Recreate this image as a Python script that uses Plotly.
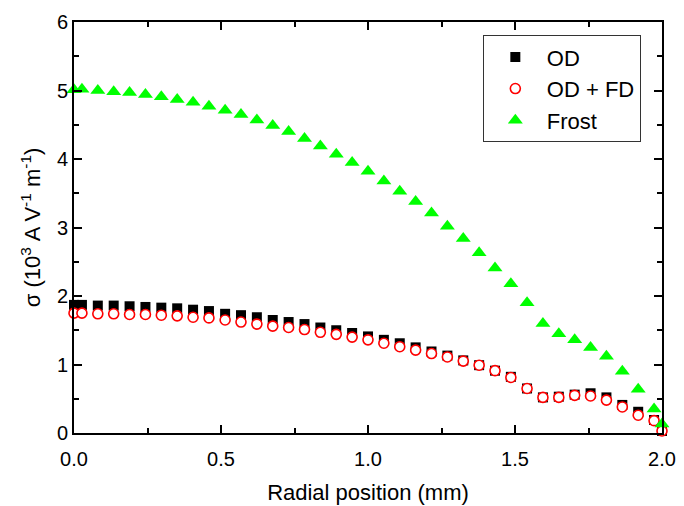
import plotly.graph_objects as go

radial_mm = [0.0, 0.027, 0.081, 0.135, 0.189, 0.243, 0.297, 0.351, 0.405, 0.459,
             0.514, 0.568, 0.622, 0.676, 0.730, 0.784, 0.838, 0.892, 0.946, 1.0,
             1.054, 1.108, 1.162, 1.216, 1.270, 1.324, 1.378, 1.432, 1.486, 1.541,
             1.595, 1.649, 1.703, 1.757, 1.811, 1.865, 1.919, 1.973, 2.0]

sigma_od = [1.87, 1.87, 1.86, 1.86, 1.85, 1.84, 1.83, 1.82, 1.80, 1.78,
            1.74, 1.72, 1.69, 1.65, 1.62, 1.59, 1.54, 1.50, 1.46, 1.41,
            1.36, 1.31, 1.25, 1.19, 1.13, 1.06, 0.99, 0.91, 0.82, 0.65,
            0.52, 0.53, 0.56, 0.58, 0.52, 0.41, 0.31, 0.19, 0.03]

sigma_od_fd = [1.75, 1.75, 1.74, 1.74, 1.73, 1.73, 1.72, 1.71, 1.69, 1.68,
               1.65, 1.62, 1.59, 1.56, 1.54, 1.51, 1.47, 1.44, 1.40, 1.36,
               1.31, 1.26, 1.21, 1.16, 1.11, 1.05, 0.99, 0.91, 0.81, 0.65,
               0.52, 0.52, 0.55, 0.54, 0.48, 0.38, 0.26, 0.18, 0.03]

sigma_frost = [5.01, 5.02, 5.00, 4.98, 4.97, 4.94, 4.91, 4.87, 4.83, 4.77,
               4.71, 4.65, 4.57, 4.49, 4.40, 4.30, 4.19, 4.07, 3.95, 3.82,
               3.68, 3.53, 3.38, 3.21, 3.02, 2.84, 2.63, 2.41, 2.18, 1.90,
               1.60, 1.45, 1.36, 1.25, 1.12, 0.90, 0.64, 0.35, 0.13]

series_names = ["OD", "OD + FD", "Frost"]
x_ticks = [0.0, 0.5, 1.0, 1.5, 2.0]
x_tick_labels = ["0.0", "0.5", "1.0", "1.5", "2.0"]
y_ticks = [0, 1, 2, 3, 4, 5, 6]

FONT = "Liberation Sans, Arial, sans-serif"

fig = go.Figure()
fig.add_trace(go.Scatter(
    x=radial_mm, y=sigma_od, mode="markers", name=series_names[0],
    marker=dict(symbol="square", size=10, color="black", line=dict(width=0)),
    cliponaxis=False))
fig.add_trace(go.Scatter(
    x=radial_mm, y=sigma_od_fd, mode="markers", name=series_names[1],
    marker=dict(symbol="circle", size=10, color="white",
                line=dict(color="#ff0000", width=1.6)),
    cliponaxis=False))
fig.add_trace(go.Scatter(
    x=radial_mm, y=sigma_frost, mode="markers", name=series_names[2],
    marker=dict(symbol="triangle-up", size=13, color="#00ff00", line=dict(width=0)),
    cliponaxis=False))

axis_common = dict(
    showline=True, linecolor="black", linewidth=2, mirror="ticks",
    ticks="inside", ticklen=8, tickwidth=1.5, tickcolor="black",
    showgrid=False, zeroline=False, automargin=False,
    tickfont=dict(family=FONT, size=20, color="black"),
)

fig.update_xaxes(
    range=[0, 2.0], tickvals=x_ticks, ticktext=x_tick_labels,
    ticklabelstandoff=7,
    minor=dict(dtick=0.25, ticks="inside", ticklen=5, tickwidth=1.5, tickcolor="black"),
    title=dict(text="Radial position (mm)", font=dict(family=FONT, size=22, color="black"), standoff=16),
    **axis_common)
fig.update_yaxes(
    range=[0, 6], tickvals=y_ticks,
    minor=dict(dtick=0.5, ticks="inside", ticklen=5, tickwidth=1.5, tickcolor="black"),
    title=dict(text="σ (10<sup>3</sup> A V<sup>-1</sup> m<sup>-1</sup>)",
               font=dict(family=FONT, size=22, color="black"), standoff=10),
    **axis_common)

fig.update_layout(
    width=684, height=506,
    margin=dict(l=74, r=22, t=22, b=73),
    paper_bgcolor="white", plot_bgcolor="white",
    legend=dict(x=0.964, y=0.968, xanchor="right", yanchor="top",
                bordercolor="#333333", borderwidth=1, bgcolor="white",
                font=dict(family=FONT, size=22, color="black"),
                itemwidth=53, itemsizing="trace"),
    showlegend=True,
)

fig.write_html("out.html")
